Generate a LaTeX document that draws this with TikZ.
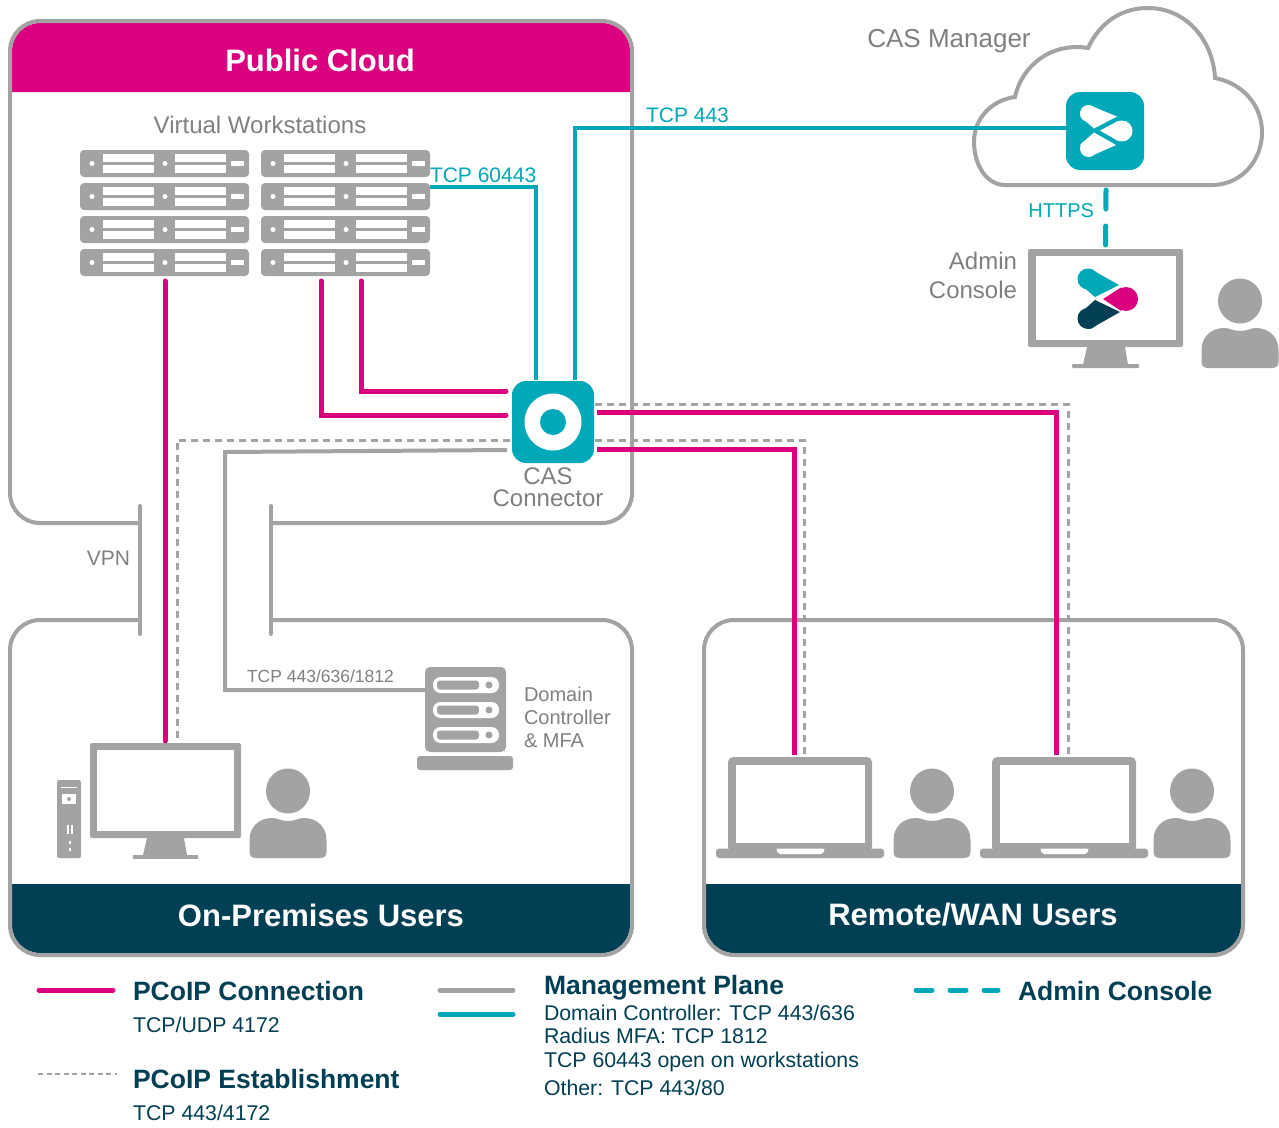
\documentclass[tikz,border=0pt]{standalone}
\usepackage{fontspec}
\setmainfont{Liberation Sans}
\definecolor{mag}{HTML}{DB007D}
\definecolor{tealc}{HTML}{00A8B8}
\definecolor{grayc}{HTML}{A3A3A3}
\definecolor{darkc}{HTML}{003F54}
\definecolor{txtc}{HTML}{808080}
\newcommand\fs[1]{\fontsize{#1}{#1}\selectfont}
\tikzset{
 panel/.style={draw=grayc,line width=4pt,rounded corners=30pt},
 pline/.style={draw=mag,line width=5pt,line cap=round},
 tline/.style={draw=tealc,line width=4.5pt},
 gline/.style={draw=grayc,line width=4pt},
 dline/.style={draw=grayc,line width=3pt,dash pattern=on 7pt off 5pt},
 hline/.style={draw=tealc,line width=5pt,line cap=round,dash pattern=on 19pt off 17pt},
 srvbox/.style={fill=grayc,rounded corners=4pt,minimum width=169pt,minimum height=27pt,inner sep=0pt,outer sep=0pt,anchor=north west},
 wbar/.style={fill=white},
 lbl/.style={text=txtc,inner sep=0pt,outer sep=0pt},
 tlbl/.style={text=tealc,inner sep=0pt,outer sep=0pt},
 blk/.style={text=darkc,inner sep=0pt,outer sep=0pt,anchor=west},
 head/.style={text=white,font=\bfseries\fs{31},inner sep=0pt,outer sep=0pt},
 icon/.style={fill=tealc,rounded corners=14pt,inner sep=0pt,outer sep=0pt},
}
\newcommand\srvunit[3]{%
 \node[srvbox] (#1) at (#2,#3) {};
 \begin{scope}[shift={(#2,#3)}]
  \fill[white] (12,13.5) circle (2.5);
  \fill[white] (85,13.5) circle (2.5);
  \fill[wbar] (23,4) rectangle (74,11.5);
  \fill[wbar] (23,15) rectangle (74,23);
  \fill[wbar] (95,4) rectangle (146,11.5);
  \fill[wbar] (95,15) rectangle (146,23);
  \fill[wbar] (151,11) rectangle (164,16);
 \end{scope}}
\newcommand\personicon[2]{%
 \begin{scope}[shift={(#1,#2)}]
  \fill[grayc] (0,-27) ellipse (22 and 22.5);
  \fill[grayc] (-38.5,34) .. controls (-38.5,38) and (-36,40) .. (-32,40) -- (32,40)
   .. controls (36,40) and (38.5,38) .. (38.5,34) -- (38.5,22)
   .. controls (38.5,8) and (28,0) .. (16,0) .. controls (10,0) and (7,3) .. (0,3)
   .. controls (-7,3) and (-10,0) .. (-16,0) .. controls (-28,0) and (-38.5,8) .. (-38.5,22) -- cycle;
 \end{scope}}
\newcommand\laptopicon[1]{%
 \begin{scope}[shift={(#1,0)}]
  \fill[grayc,rounded corners=5pt] (0,852) -- (0,757) -- (144,757) -- (144,852) -- cycle;
  \fill[white] (7.5,765) rectangle (136.5,843);
  \fill[grayc,rounded corners=3pt] (-12,848.5) -- (156,848.5) -- (156,858) -- (-12,858) -- cycle;
  \fill[white,rounded corners=2pt] (48,848.5) -- (97,848.5) -- (95,854) -- (50,854) -- cycle;
 \end{scope}}
\begin{document}
\begin{tikzpicture}[x=1pt,y=-1pt]
\useasboundingbox (0,0) rectangle (1279,1127);
\fill[white] (0,0) rectangle (1279,1127);
% bands
\fill[mag] (12,92) [rounded corners=28pt] -- (12,23) -- (630,23) [sharp corners] -- (630,92) -- cycle;
\fill[darkc] (12,884) [rounded corners=28pt] -- (12,953) -- (630,953) [sharp corners] -- (630,884) -- cycle;
\fill[darkc] (706,884) [rounded corners=28pt] -- (706,953) -- (1241,953) [sharp corners] -- (1241,884) -- cycle;
% panels
\draw[panel] (140,523) -- (10,523) -- (10,21) -- (632,21) -- (632,523) -- (272,523);
\draw[panel] (140,620) -- (10,620) -- (10,955) -- (632,955) -- (632,620) -- (272,620);
\draw[panel] (704,620) rectangle (1243,955);
\draw[gline,line cap=round] (140,506) -- (140,634);
\draw[gline,line cap=round] (271,506) -- (271,634);
% cloud
\draw[grayc,line width=4pt,fill=white] (1005,185) .. controls (986,185) and (974,164) .. (974,142) .. controls (974,118) and (992,100) .. (1015,97) .. controls (1022,65) and (1052,42) .. (1088,48) .. controls (1100,22) and (1122,8) .. (1148,8) .. controls (1186,8) and (1213,40) .. (1215,78) .. controls (1242,83) and (1262,105) .. (1262,132) .. controls (1262,162) and (1240,185) .. (1212,185) -- cycle;
% main icons as nodes
\node[icon,minimum width=82pt,minimum height=82pt] (cas) at (553,422) {};
\node[icon,minimum width=78pt,minimum height=78pt] (mgr) at (1105,131) {};
\node[inner sep=0pt,outer sep=0pt,minimum width=155pt,minimum height=98pt,fill=grayc,rounded corners=2pt] (adm) at (1105.5,298) {};
\node[inner sep=0pt,outer sep=0pt,minimum width=151pt,minimum height=95pt,fill=grayc,rounded corners=2pt] (mon) at (165.5,790.5) {};
\node[inner sep=0pt,outer sep=0pt,minimum width=81pt,minimum height=85pt,fill=grayc,rounded corners=5pt] (dc) at (465.5,709.5) {};
\coordinate (cloudb) at (1106,190);
\coordinate (ltop1) at (794,755);
\coordinate (ltop2) at (1056,755);
\coordinate (ltopd1) at (804,755);
\coordinate (ltopd2) at (1068,755);
% servers
\coordinate (tdot) at (404,188);
\fill[tealc] (tdot) circle (1.6);
\foreach \n/\yy in {a/150,b/183,c/216,d/249}{\srvunit{l\n}{80}{\yy}\srvunit{r\n}{261}{\yy}}
% magenta
\draw[pline] ([xshift=85pt,yshift=-5pt]ld.south west) -- ([yshift=2pt,xshift=-.5pt]mon.north);
\draw[pline] ([xshift=60pt,yshift=-5pt]rd.south west) |- ([xshift=-6pt,yshift=7pt]cas.west);
\draw[pline] ([xshift=100pt,yshift=-5pt]rd.south west) |- ([xshift=-6pt,yshift=31pt]cas.west);
\draw[pline,line cap=butt] ([xshift=3pt,yshift=10pt]cas.east) -| (ltop2);
\draw[pline,line cap=butt] ([xshift=3pt,yshift=-27pt]cas.east) -| (ltop1);
% teal
\draw[tline] (rb.east |- 0,187) -| ([xshift=-17pt,yshift=1pt]cas.north);
\draw[tline] ([xshift=22pt,yshift=1pt]cas.north) |- ([yshift=3pt]mgr.west);
\draw[hline] (cloudb) -- (adm.north);
% gray
\draw[gline,line join=miter] ([xshift=-5pt,yshift=-28pt]cas.west) -- (225,452) -- (225,690) -- (dc.west |- 0,690);
% dotted
\draw[dline] ([xshift=-2pt,yshift=-18pt]cas.west) -- (177,440) -- ([xshift=11.5pt]mon.north |- 0,742);
\draw[dline] ([xshift=1pt,yshift=18pt]cas.east) -| (ltopd2);
\draw[dline] ([xshift=1pt,yshift=-18pt]cas.east) -| (ltopd1);
% cas ring
\fill[white] (cas.center) circle (28.5);
\fill[tealc] (cas.center) circle (13);
% mgr logo
\fill[white] (1088.5,113.5) circle (8.5);
\fill[white] (1088.5,113.5) -- (1089,105) -- (1117,116.5) -- (1094,128.5) -- (1080.2,116.4) -- cycle;
\fill[white] (1122,131) circle (10.5);
\fill[white] (1100,130.5) -- (1118,121) -- (1122,131) -- (1118,141) -- cycle;
\fill[white] (1088.5,148.5) circle (8.5);
\fill[white] (1088.5,148.5) -- (1089,157) -- (1116,145) -- (1094,132.5) -- (1080.2,144.6) -- cycle;
% admin monitor
\fill[white] (1036,256) rectangle (1176,340);
\fill[grayc] (1087,347) -- (1125,347) -- (1128,365) -- (1083,365) -- cycle;
\fill[grayc,rounded corners=1pt] (1072,364) rectangle (1139,368);
\fill[tealc] (1088,279) circle (10.5);
\fill[tealc] (1088,279) -- (1090,268.7) -- (1119,285) -- (1095,297) -- (1078.2,282.8) -- cycle;
\fill[mag] (1126,299) circle (12);
\fill[mag] (1126,299) -- (1121,287.5) -- (1103,299) -- (1121,311) -- cycle;
\fill[darkc] (1088,318.5) circle (10.5);
\fill[darkc] (1088,318.5) -- (1090,329) -- (1120,312) -- (1095,300) -- (1078.2,315) -- cycle;
\personicon{1240}{328}
% left monitor
\fill[white] (97,750) rectangle (234,831);
\fill[grayc] (147,838) -- (184,838) -- (187,855) -- (143,855) -- cycle;
\fill[grayc] (133,855) rectangle (198,858.5);
% tower
\fill[grayc,rounded corners=2pt] (57,780) rectangle (81,858);
\fill[white] (61,786.5) rectangle (77,787.5);
\fill[white] (62,794) rectangle (76,804);
\fill[grayc] (69,799) circle (2);
\fill[white] (67,825) rectangle (69,834);
\fill[white] (71,825) rectangle (73,834);
\fill[white] (69,841) rectangle (71,844);
\fill[white] (69,848) rectangle (71,851);
\personicon{288}{818}
% domain controller
\fill[grayc,rounded corners=3pt] (417,756) rectangle (513,770);
\foreach \yy in {677,702,727}{
 \fill[white,rounded corners=7.5pt] (433,\yy) rectangle (499,\yy+16);
 \fill[grayc,rounded corners=3pt] (437,\yy+3.5) rectangle (479,\yy+12.5);
 \fill[grayc] (489,\yy+8) circle (3.5);
}
% laptops
\laptopicon{728}
\laptopicon{992}
\personicon{932}{818}
\personicon{1192}{818}
% texts
\node[head] (t1) at (320,60) {Public Cloud};
\node[head] (t2) at (321,915) {On-Premises Users};
\node[head] (t3) at (973,915) {Remote/WAN Users};
\node[lbl,font=\fs{24}] (t4) at (260,125) {Virtual Workstations};
\node[lbl,font=\fs{26}] (t5) at (949,41) {CAS Manager};
\node[tlbl,font=\fs{21},anchor=west] (t6) at (646,115) {TCP 443};
\node[tlbl,font=\fs{21},anchor=west] (t7) at (430,175) {TCP 60443};
\node[tlbl,font=\fs{20},anchor=east] (t8) at (1094,211) {HTTPS};
\node[lbl,font=\fs{24},align=right,anchor=north east] (t9) at (1017,252) {Admin\\[5pt]Console};
\node[lbl,font=\fs{24},align=center,anchor=north] (t10) at (548,468) {CAS\\[-2pt]Connector};
\node[lbl,font=\fs{21},anchor=east] (t11) at (130,558) {VPN};
\node[lbl,font=\fs{17.5},anchor=west] (t12) at (247,676) {TCP 443/636/1812};
\node[lbl,font=\fs{20},align=left,anchor=north west] (t13) at (524,687) {Domain\\[3pt]Controller\\[3pt]\&\ MFA};
% legend
\draw[pline,line cap=round] (39,990) coordinate (la1) -- (113,990) coordinate (la2);
\node[blk,font=\bfseries\fs{26.5}] (l1) at (133,991) {PCoIP Connection};
\node[blk,font=\fs{21.3}] (l2) at (133,1025) {TCP/UDP 4172};
\draw[dline,line width=2.5pt,dash pattern=on 5pt off 3.5pt] (38,1074) coordinate (la3) -- (117,1074) coordinate (la4);
\node[blk,font=\bfseries\fs{26.5}] (l3) at (133,1079) {PCoIP Establishment};
\node[blk,font=\fs{21.3}] (l4) at (133,1113) {TCP 443/4172};
\draw[gline,line width=5pt,line cap=round] (440,990) coordinate (la5) -- (513,990) coordinate (la6);
\draw[tline,line width=5pt,line cap=round] (440,1014) coordinate (la7) -- (513,1014) coordinate (la8);
\node[blk,font=\bfseries\fs{26.5}] (l5) at (544,988) {Management Plane};
\node[blk,font=\fs{21.3},align=left,anchor=north west] (l6) at (544,1005) {Domain Controller: TCP 443/636\\[2pt]Radius MFA: TCP 1812\\[2pt]TCP 60443 open on workstations\\[7pt]Other: TCP 443/80};
\draw[hline,dash pattern=on 16pt off 18pt] (916,990) coordinate (la9) -- (998,990) coordinate (la10);
\node[blk,font=\bfseries\fs{26.5}] (l7) at (1018,991) {Admin Console};
\end{tikzpicture}
\end{document}
